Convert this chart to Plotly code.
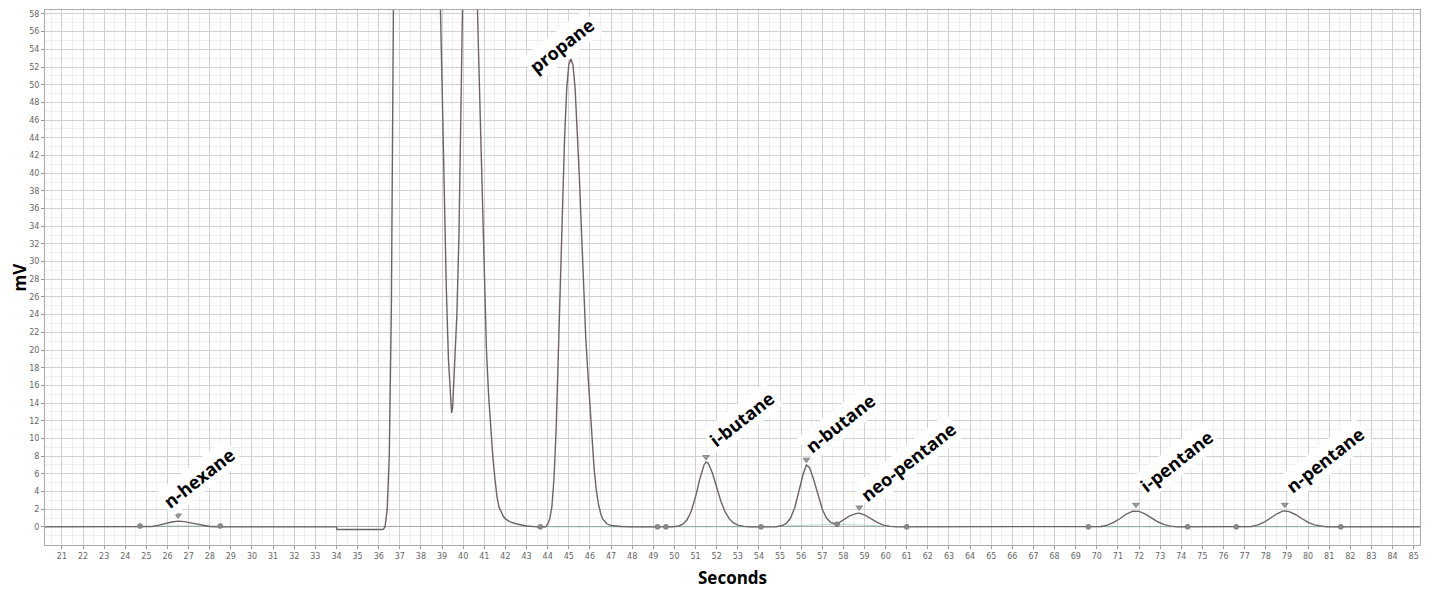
import plotly.graph_objects as go

# ---- chromatogram signal (seconds, mV) ----
time_s = [20.2, 22.0, 24.0, 25.0, 25.3, 25.6, 25.9, 26.2, 26.5, 26.8, 27.1, 27.4, 27.7, 28.0, 28.3,
          30.0, 32.0, 34.0, 34.02, 35.0, 36.2, 36.3, 36.4, 36.5, 36.6, 36.7, 36.8, 37.0, 37.7,
          38.5, 38.8, 38.9, 39.0, 39.1, 39.2, 39.3, 39.4, 39.45, 39.5, 39.6, 39.7, 39.8, 39.9, 40.0, 40.1,
          40.3, 40.5, 40.6, 40.7, 40.8, 40.9, 41.0, 41.1, 41.2, 41.3, 41.4, 41.5, 41.6, 41.7, 41.8, 41.9,
          42.0, 42.2, 42.5, 43.0, 43.5, 43.9, 44.0, 44.1, 44.2, 44.3, 44.4, 44.5, 44.6, 44.7, 44.8, 44.9,
          45.0, 45.1, 45.2, 45.3, 45.4, 45.5, 45.6, 45.7, 45.8, 45.9, 46.0, 46.1, 46.2, 46.3, 46.4, 46.5,
          46.6, 46.8, 47.0, 47.5, 48.0, 49.9, 50.2, 50.4, 50.6, 50.8, 51.0, 51.2, 51.4, 51.5, 51.6, 51.8,
          52.0, 52.2, 52.4, 52.6, 52.8, 53.0, 53.3, 53.6, 54.8, 55.1, 55.3, 55.5, 55.7, 55.9, 56.1, 56.25,
          56.4, 56.6, 56.8, 57.0, 57.2, 57.4, 57.6, 57.75, 58.0, 58.3, 58.6, 58.75, 59.0, 59.3, 59.6, 59.9,
          60.2, 60.5, 65.0, 69.8, 70.2, 70.5, 70.8, 71.1, 71.4, 71.7, 71.85, 72.0, 72.3, 72.6, 72.9, 73.2,
          73.5, 73.8, 76.9, 77.3, 77.6, 77.9, 78.2, 78.5, 78.8, 78.9, 79.1, 79.4, 79.7, 80.0, 80.3, 80.6,
          80.9, 85.3]
signal_mv = [0.0, 0.0, 0.0, 0.0, 0.05, 0.2, 0.4, 0.55, 0.65, 0.6, 0.45, 0.3, 0.15, 0.05, 0.0,
             0.0, 0.0, 0.0, -0.3, -0.3, -0.3, 0.0, 2.0, 8.0, 25.0, 60.0, 120.0, 200.0, 260.0,
             160.0, 75.0, 61.0, 50.0, 38.0, 27.0, 19.0, 14.0, 12.9, 13.5, 18.0, 24.0, 33.0, 44.0, 56.0, 70.0,
             110.0, 90.0, 66.0, 56.0, 47.0, 37.0, 27.0, 20.0, 15.0, 11.0, 8.0, 5.5, 3.4, 2.2, 1.6, 1.2,
             0.9, 0.6, 0.35, 0.1, 0.0, 0.0, 0.3, 0.9, 2.3, 5.5, 11.0, 19.0, 28.0, 36.5, 44.0, 49.5,
             52.3, 52.9, 52.2, 49.5, 45.0, 39.5, 33.5, 27.0, 21.5, 17.5, 13.5, 9.5, 6.5, 4.2, 2.6, 1.6,
             0.9, 0.35, 0.15, 0.05, 0.0, 0.0, 0.1, 0.3, 0.8, 1.8, 3.4, 5.4, 7.0, 7.35, 7.2, 6.1,
             4.5, 2.9, 1.7, 0.9, 0.45, 0.2, 0.05, 0.0, 0.0, 0.15, 0.4, 1.0, 2.2, 4.0, 6.0, 7.0,
             6.7, 5.3, 3.5, 2.0, 1.0, 0.5, 0.35, 0.4, 0.8, 1.25, 1.5, 1.55, 1.35, 0.95, 0.5, 0.2,
             0.05, 0.0, 0.0, 0.0, 0.05, 0.2, 0.5, 0.95, 1.45, 1.78, 1.8, 1.75, 1.45, 1.0, 0.55, 0.25,
             0.08, 0.0, 0.0, 0.05, 0.2, 0.5, 0.95, 1.45, 1.78, 1.8, 1.72, 1.4, 0.95, 0.5, 0.22, 0.07,
             0.0, 0.0]

# ---- peak labels and their apex markers ----
peak_names = ["n-hexane", "propane", "i-butane", "n-butane", "neo-pentane", "i-pentane", "n-pentane"]
peak_time = [26.5, 45.1, 51.5, 56.25, 58.75, 71.85, 78.9]
peak_marker_mv = [1.3, 54.1, 7.9, 7.6, 2.2, 2.5, 2.5]

# ---- integration start/end points ----
event_time = [24.7, 28.5, 43.65, 49.2, 49.6, 54.1, 57.7, 61.0, 69.6, 74.3, 76.6, 81.55]
event_mv = [0.1, 0.1, 0.0, 0.0, 0.0, 0.0, 0.3, 0.0, 0.0, 0.0, 0.0, 0.0]

# ---- axis ticks and titles ----
x_ticks = list(range(21, 86))
y_ticks = list(range(0, 59, 2))
x_title = "Seconds"
y_title = "mV"

fig = go.Figure()

# faint integration baselines between event points
base_pairs = [(0, 1), (2, 3), (4, 5), (5, 6), (6, 7), (8, 9), (10, 11)]
for a, b in base_pairs:
    fig.add_trace(go.Scatter(x=[event_time[a], event_time[b]], y=[event_mv[a], event_mv[b]],
                             mode="lines", line=dict(color="rgba(120,190,150,0.55)", width=1),
                             hoverinfo="skip", showlegend=False))

fig.add_trace(go.Scatter(x=time_s, y=signal_mv, mode="lines",
                         line=dict(color="#6d6366", width=1.4), showlegend=False))

fig.add_trace(go.Scatter(x=event_time, y=event_mv, mode="markers",
                         marker=dict(symbol="circle", size=5, color="#8a8a8a",
                                     line=dict(color="#666", width=0.5)),
                         showlegend=False))
fig.add_trace(go.Scatter(x=peak_time, y=peak_marker_mv, mode="markers",
                         marker=dict(symbol="triangle-down", size=6, color="#9a9a9a",
                                     line=dict(color="#666", width=0.6)),
                         showlegend=False))

label_shift = {
    "n-hexane": (-24, -2), "propane": (-51, -34), "i-butane": (-6, 1), "n-butane": (-10, -2),
    "neo-pentane": (-8, -3), "i-pentane": (-5, 4), "n-pentane": (-8, 2),
}
for name, t, m in zip(peak_names, peak_time, peak_marker_mv):
    dx, dy = label_shift[name]
    fig.add_annotation(x=t, y=m, text="<b>%s</b>" % name, showarrow=False,
                       textangle=-38, xanchor="left", yanchor="bottom",
                       xshift=dx, yshift=dy, bgcolor="white", borderpad=2,
                       font=dict(family="Open Sans", size=18, color="black"))

title_font = dict(family="Open Sans", size=17, color="black")
fig.add_annotation(xref="paper", yref="paper", x=0.5, y=0, text="<b>%s</b>" % x_title,
                   showarrow=False, xanchor="center", yanchor="middle", yshift=-32,
                   font=title_font)
fig.add_annotation(xref="paper", yref="paper", x=0, y=0.5, text="<b>%s</b>" % y_title,
                   showarrow=False, xanchor="center", yanchor="middle", xshift=-26,
                   textangle=-90, font=title_font)

axis_font = dict(family="DejaVu Sans", size=8, color="#666")
fig.update_layout(
    width=1438, height=589,
    margin=dict(l=37, r=26, t=2, b=52),
    paper_bgcolor="white", plot_bgcolor="white",
    xaxis=dict(range=[20.2, 85.3], tickvals=x_ticks, ticktext=[str(v) for v in x_ticks],
               tickfont=axis_font, ticks="outside", ticklen=3, tickcolor="#999",
               showgrid=True, gridcolor="#d2d2d2", gridwidth=1,
               minor=dict(dtick=0.5, showgrid=True, gridcolor="#efefef"),
               showline=True, linecolor="#aaa", mirror=True, zeroline=False,
               automargin=False),
    yaxis=dict(range=[-2.05, 58.45], tickvals=y_ticks, ticktext=[str(v) for v in y_ticks],
               tickfont=axis_font, ticks="outside", ticklen=3, tickcolor="#999",
               showgrid=True, gridcolor="#d2d2d2", gridwidth=1,
               minor=dict(dtick=1, showgrid=True, gridcolor="#efefef"),
               showline=True, linecolor="#aaa", mirror=True,
               zeroline=True, zerolinecolor="#a8a8a8", zerolinewidth=1,
               automargin=False),
)

fig.write_html("out.html")
